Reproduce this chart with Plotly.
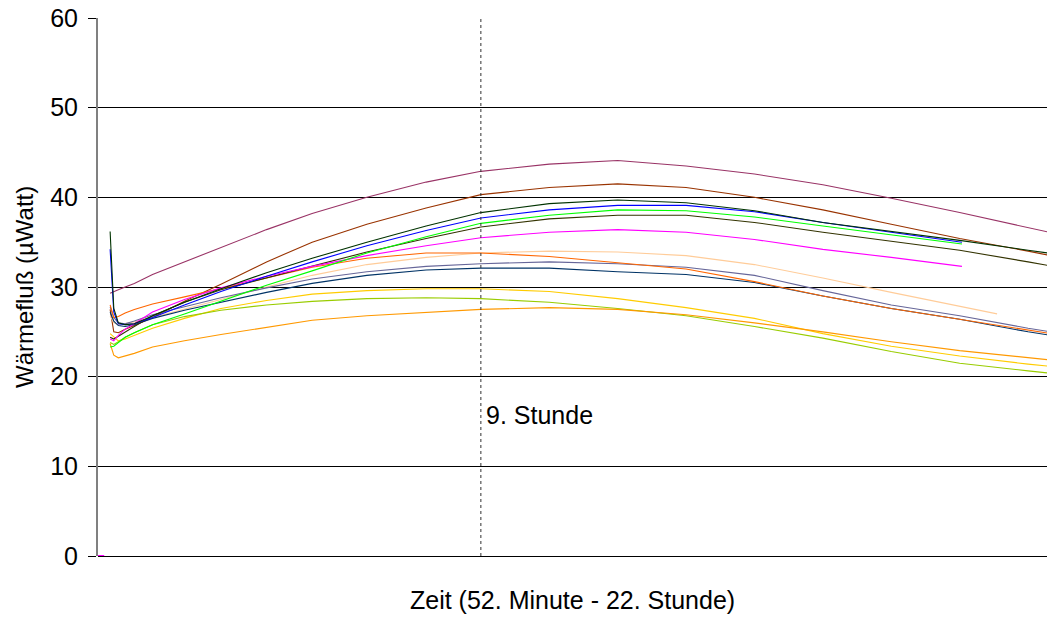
import plotly.graph_objects as go

# Zeitpunkte der Messwerte in Stunden (ab 52. Minute)
hours = [0.87, 0.95, 1.05, 1.2, 1.4, 1.8, 2.5, 3.3, 4.3, 5.3, 6.5, 7.8, 9.0,
         10.5, 12.0, 13.5, 15.0, 16.5, 18.0, 19.5, 21.0, 22.0]

# Wärmefluß je Probe in µWatt
probe_violett = [29.3, 29.5, 29.7, 30.0, 30.4, 31.4, 32.8, 34.4, 36.4, 38.2, 40.0, 41.7, 42.9,
                 43.7, 44.1, 43.5, 42.6, 41.4, 39.9, 38.3, 36.6, 35.5]
probe_braun = [27.5, 25.0, 24.9, 25.3, 25.7, 26.6, 28.4, 30.3, 32.8, 35.0, 37.0, 38.8, 40.3,
               41.1, 41.5, 41.1, 40.0, 38.6, 37.0, 35.4, 34.0, 33.0]
probe_dunkelgruen = [36.2, 27.6, 26.0, 25.8, 25.9, 26.8, 28.3, 29.8, 31.6, 33.2, 35.0, 36.8, 38.3,
                     39.3, 39.7, 39.4, 38.5, 37.2, 36.2, 35.2, 34.1, 33.4]
probe_blau = [34.2, 27.2, 25.9, 25.8, 25.9, 26.6, 28.0, 29.5, 31.2, 32.8, 34.6, 36.3, 37.7,
              38.6, 39.1, 39.1, 38.4, 37.2, 36.1, 35.0]
probe_gruen = [23.3, 23.4, 23.8, 24.4, 24.9, 25.8, 27.0, 28.4, 30.2, 31.8, 33.8, 35.6, 37.1,
               38.0, 38.6, 38.5, 37.8, 36.8, 35.8, 34.8]
probe_oliv = [24.4, 24.2, 24.5, 25.0, 25.6, 26.8, 28.3, 29.7, 31.0, 32.3, 33.9, 35.4, 36.7,
              37.6, 38.0, 38.0, 37.2, 36.1, 35.1, 34.1, 32.8, 31.9]
probe_magenta = [24.2, 24.0, 24.6, 25.3, 25.9, 27.2, 28.6, 29.9, 31.2, 32.3, 33.5, 34.6, 35.5,
                 36.1, 36.4, 36.1, 35.3, 34.2, 33.3, 32.3]
probe_orange = [28.0, 26.6, 26.7, 27.1, 27.5, 28.1, 28.9, 29.8, 31.0, 32.2, 33.2, 33.8, 33.8,
                33.4, 32.7, 32.0, 30.6, 29.0, 27.6, 26.4, 25.2, 24.4]
probe_pfirsich = [26.8, 26.0, 25.8, 25.9, 26.1, 26.6, 27.5, 28.6, 30.0, 31.3, 32.5, 33.3, 33.8,
                  34.0, 33.9, 33.5, 32.5, 31.0, 29.4, 27.9, 27.0]
probe_graublau = [27.8, 26.6, 26.0, 25.9, 26.2, 26.9, 27.8, 28.8, 29.9, 30.9, 31.7, 32.3, 32.6,
                  32.8, 32.6, 32.2, 31.3, 29.6, 28.0, 26.8, 25.4, 24.6]
probe_marine = [27.2, 26.2, 25.7, 25.6, 25.8, 26.5, 27.4, 28.3, 29.4, 30.4, 31.3, 31.9, 32.1,
                32.1, 31.7, 31.4, 30.5, 29.0, 27.6, 26.4, 25.0, 24.2]
probe_gelb = [24.8, 24.4, 24.0, 24.2, 24.6, 25.4, 26.5, 27.6, 28.5, 29.2, 29.6, 29.8, 29.8,
              29.5, 28.7, 27.7, 26.5, 24.8, 23.4, 22.3, 21.4, 20.9]
probe_gelbgruen = [23.8, 23.6, 23.9, 24.4, 24.9, 25.8, 26.7, 27.4, 28.0, 28.4, 28.7, 28.8, 28.7,
                   28.3, 27.6, 26.8, 25.6, 24.3, 22.8, 21.5, 20.65, 20.1]
probe_hellorange = [23.7, 22.4, 22.1, 22.3, 22.6, 23.3, 24.0, 24.7, 25.5, 26.3, 26.8, 27.2, 27.5,
                    27.7, 27.5, 26.9, 26.0, 25.0, 23.9, 22.9, 22.1, 21.6]

# Messreihen, die vor der 22. Stunde enden (letzter Zeitpunkt in Stunden)
ende_kurz = 19.55
ende_pfirsich = 20.32

# Leerprobe am Anfang der Zeitachse
leer_hours = [0.604, 0.74]
leer_values = [0.0, 0.0]

series = [
    (probe_violett, "#993366"),
    (probe_braun, "#993300"),
    (probe_pfirsich, "#FFCC99"),
    (probe_graublau, "#666699"),
    (probe_marine, "#003366"),
    (probe_orange, "#FF6600"),
    (probe_gelb, "#FFCC00"),
    (probe_gelbgruen, "#99CC00"),
    (probe_hellorange, "#FF9900"),
    (probe_oliv, "#333300"),
    (probe_magenta, "#FF00FF"),
    (probe_gruen, "#00FF00"),
    (probe_blau, "#0000FF"),
    (probe_dunkelgruen, "#003300"),
]


def zeitachse(n):
    """Zeitpunkte für eine Messreihe mit n Werten."""
    if n == len(hours):
        return hours
    if n == 21:
        return hours[:20] + [ende_pfirsich]
    return hours[:n - 1] + [ende_kurz]


fig = go.Figure()
for values, color in series:
    fig.add_trace(go.Scatter(x=zeitachse(len(values)), y=values, mode="lines",
                             line=dict(color=color, width=1.1), showlegend=False))

fig.add_trace(go.Scatter(x=leer_hours, y=leer_values, mode="lines",
                         line=dict(color="#FF00FF", width=2), showlegend=False,
                         cliponaxis=False))

font = "Liberation Sans, Arial, sans-serif"

fig.add_shape(type="line", xref="x", yref="paper", x0=9.0, x1=9.0, y0=0, y1=1,
              line=dict(color="#303030", width=1, dash="dot"))

fig.add_annotation(x=9.0, y=15.7, xref="x", yref="y", text="9. Stunde",
                   showarrow=False, xanchor="left", xshift=3,
                   font=dict(family=font, size=25, color="#000000"))
fig.add_annotation(x=0.5, y=0, xref="paper", yref="paper",
                   text="Zeit (52. Minute - 22. Stunde)", showarrow=False,
                   yanchor="middle", yshift=-44,
                   font=dict(family=font, size=25, color="#000000"))
fig.add_annotation(x=0, y=0.5, xref="paper", yref="paper",
                   text="Wärmefluß (µWatt)", showarrow=False, textangle=-90,
                   xanchor="center", xshift=-74,
                   font=dict(family=font, size=24, color="#000000"))

fig.update_layout(
    width=1047, height=617,
    margin=dict(l=98, r=0, t=18, b=61),
    paper_bgcolor="white", plot_bgcolor="white",
    font=dict(family=font, size=25, color="#000000"),
    xaxis=dict(range=[0.604, 21.415], showticklabels=False, showgrid=False,
               zeroline=False, showline=False, ticks=""),
    yaxis=dict(range=[0, 60], dtick=10, showgrid=True, gridcolor="#000000",
               gridwidth=1, zeroline=True, zerolinecolor="#000000", zerolinewidth=1,
               showline=True, linecolor="#808080", linewidth=2,
               ticks="outside", ticklen=8, tickcolor="#000000", tickwidth=1,
               ticklabelstandoff=5,
               tickfont=dict(family=font, size=25, color="#000000")),
)

fig.write_html("out.html")
